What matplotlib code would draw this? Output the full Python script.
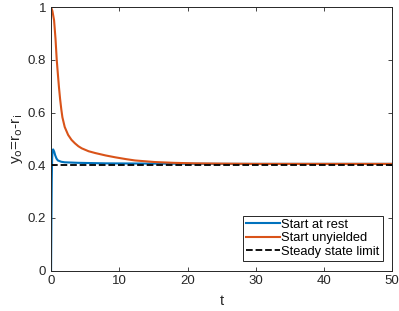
import numpy as np
import matplotlib
matplotlib.use('Agg')
import matplotlib.pyplot as plt
from matplotlib.ticker import FuncFormatter

plt.rcParams['font.family'] = ['Liberation Sans', 'DejaVu Sans']

# start at rest (blue)
t_rest = [0, 0.05, 0.1, 0.15, 0.2, 0.3, 0.45, 0.6, 0.8, 1.0, 1.5, 2, 4, 8, 15, 25, 50]
y_rest = [0, 0.2, 0.34, 0.42, 0.45, 0.46, 0.452, 0.438, 0.425, 0.418, 0.413, 0.411,
          0.409, 0.407, 0.406, 0.405, 0.405]

# start unyielded (orange)
t_unyield = [0, 0.2, 0.44, 0.65, 0.83, 1.0, 1.15, 1.32, 1.5, 1.66, 2.0, 2.5, 3.0, 3.5,
             4.0, 4.5, 5.5, 6.5, 8, 9.4, 11, 12.3, 15.2, 18, 21, 25, 30, 50]
y_unyield = [1.0, 0.985, 0.95, 0.88, 0.80, 0.745, 0.698, 0.652, 0.612, 0.582, 0.545,
             0.515, 0.496, 0.483, 0.472, 0.464, 0.453, 0.446, 0.437, 0.43, 0.423,
             0.418, 0.412, 0.409, 0.407, 0.406, 0.405, 0.405]

steady = 0.4

fig = plt.figure(figsize=(3.99, 3.11), dpi=100)
ax = fig.add_axes([0.128, 0.130, 0.855, 0.847])

ax.plot(t_rest, y_rest, color='#0072BD', lw=1.5, label='Start at rest')
ax.plot(t_unyield, y_unyield, color='#D95319', lw=1.5, label='Start unyielded')
ax.plot([0, 50], [steady, steady], 'k--', lw=1.3, label='Steady state limit')

ax.set_xlim(0, 50)
ax.set_ylim(0, 1)
ax.set_xticks(np.arange(0, 51, 10))
ax.set_yticks(np.arange(0, 1.01, 0.2))
ax.yaxis.set_major_formatter(FuncFormatter(lambda v, p: f'{v:g}'))
ax.tick_params(direction='in', top=True, right=True, labelsize=9.5,
               colors='#262626', length=3, width=0.6)
for s in ax.spines.values():
    s.set_color('#262626')
    s.set_linewidth(0.7)

ax.set_xlabel('t', fontsize=10.5, color='#262626', labelpad=5)
ax.set_ylabel(r'y$_\mathrm{o}$=r$_\mathrm{o}$-r$_\mathrm{i}$', fontsize=11,
              color='#262626', labelpad=2)

leg = ax.legend(loc='lower right', fontsize=9.3, fancybox=False, framealpha=1,
                edgecolor='#262626', handlelength=2.6, handletextpad=0.1,
                borderpad=0.25, labelspacing=0.1, borderaxespad=0.75)
leg.get_frame().set_linewidth(0.7)

fig.savefig('out.png', dpi=100)
